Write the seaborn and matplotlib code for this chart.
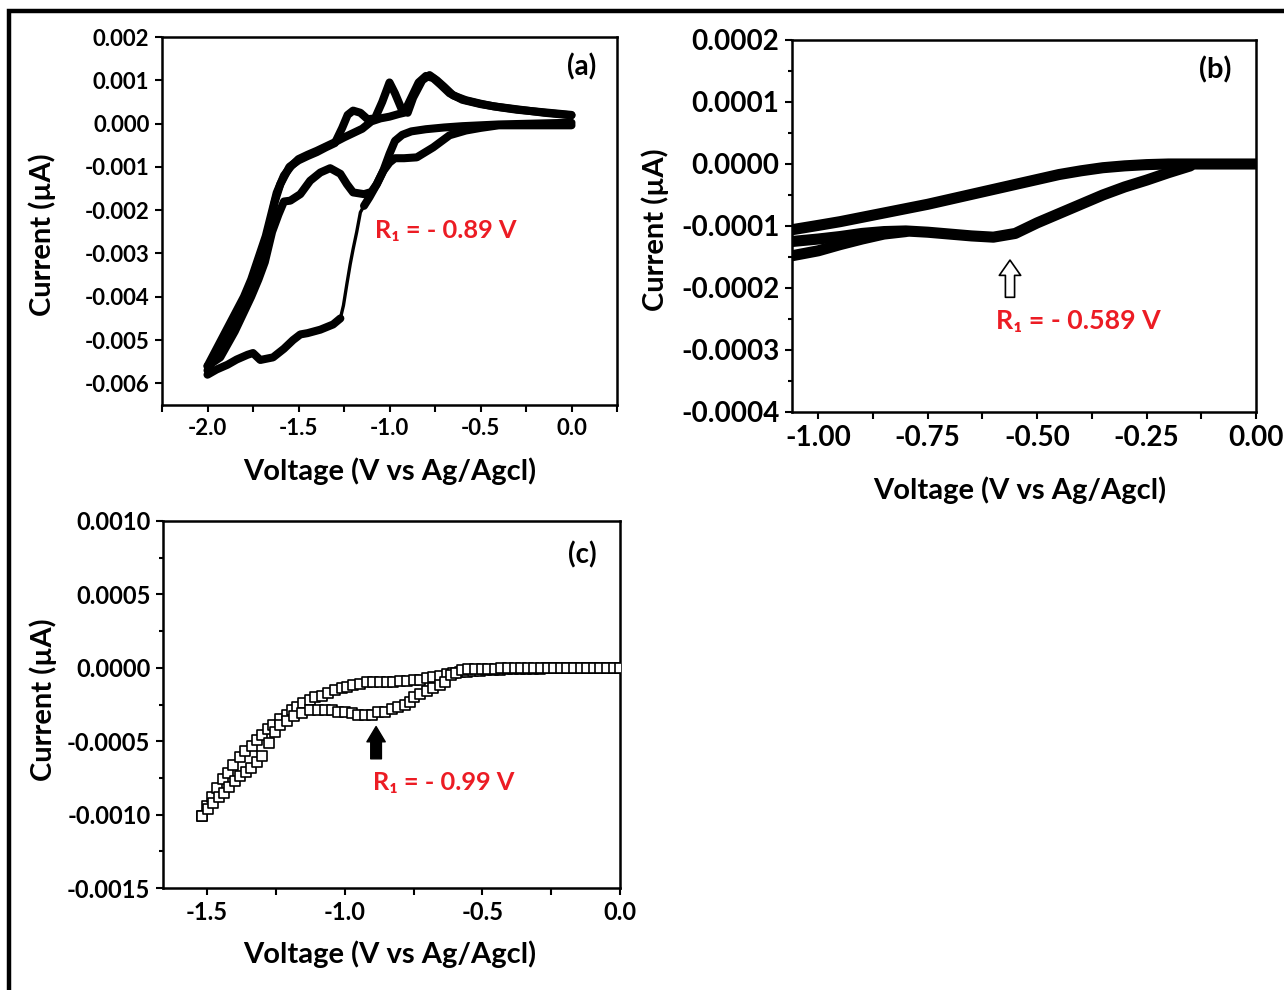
import matplotlib
matplotlib.use("Agg")
import matplotlib.pyplot as plt
import numpy as np
import pandas as pd
import seaborn as sns
from matplotlib.ticker import MultipleLocator, FormatStrFormatter
from matplotlib.patches import Rectangle

# ---------------- data ----------------
# panel (a): cyclic voltammogram branches (V, current)
a_an1_x = [-2.0, -1.95, -1.9, -1.85, -1.8, -1.76, -1.72, -1.69, -1.66, -1.63, -1.6, -1.55, -1.5, -1.45,
           -1.4, -1.35, -1.3, -1.26, -1.23, -1.2, -1.16, -1.12, -1.08, -1.04, -1.0, -0.97, -0.93, -0.9,
           -0.87, -0.82, -0.78, -0.74, -0.7, -0.65, -0.58, -0.5, -0.43, -0.3, -0.15, 0.0]
a_an1_y = [-0.0057, -0.0053, -0.0049, -0.0045, -0.0041, -0.0037, -0.0033, -0.0029, -0.0024, -0.0018,
           -0.0014, -0.0010, -0.00085, -0.00075, -0.00066, -0.00055, -0.00045, -0.0001, 0.0002, 0.0003,
           0.00025, 0.0001, 0.00012, 0.0005, 0.00095, 0.0007, 0.0003, 0.00025, 0.0006, 0.001, 0.00112,
           0.001, 0.00085, 0.00065, 0.00054, 0.00046, 0.0004, 0.00033, 0.00025, 0.00019]

a_an2_x = [-2.0, -1.95, -1.9, -1.85, -1.8, -1.76, -1.72, -1.68, -1.65, -1.62, -1.58, -1.54, -1.5, -1.45,
           -1.4, -1.35, -1.3, -1.25, -1.2, -1.15, -1.1, -1.05, -1.0, -0.95, -0.92, -0.88, -0.84, -0.8,
           -0.76, -0.72, -0.67, -0.6, -0.5, -0.4, -0.3, -0.15, 0.0]
a_an2_y = [-0.0056, -0.0052, -0.0048, -0.0044, -0.0040, -0.0036, -0.0031, -0.0026, -0.0021, -0.0016,
           -0.0012, -0.00098, -0.00082, -0.00072, -0.00063, -0.00053, -0.00043, -0.00032, -0.00022,
           -0.00012, 0.00005, 0.00012, 0.00016, 0.00022, 0.00025, 0.0006, 0.00095, 0.0011, 0.00105,
           0.0009, 0.0007, 0.00055, 0.00045, 0.00038, 0.00032, 0.00026, 0.0002]

a_cat1_x = [0.0, -0.1, -0.2, -0.3, -0.4, -0.5, -0.6, -0.7, -0.8, -0.88, -0.93, -0.97, -1.0, -1.035,
            -1.07, -1.11, -1.14]
a_cat1_y = [0.00002, 0.00001, 0.0, -0.00001, -0.00002, -0.00004, -0.00006, -0.00009, -0.00013, -0.00018,
            -0.00026, -0.0004, -0.0007, -0.0011, -0.0014, -0.0017, -0.0019]

a_fast_x = [-1.14, -1.16, -1.18, -1.2, -1.216, -1.234, -1.253, -1.27]
a_fast_y = [-0.0019, -0.00205, -0.0025, -0.0029, -0.00325, -0.0037, -0.0042, -0.0045]

a_low_x = [-1.27, -1.31, -1.38, -1.45, -1.49, -1.53, -1.58, -1.64, -1.71, -1.75, -1.78, -1.84, -1.89,
           -1.95, -2.0]
a_low_y = [-0.0045, -0.00464, -0.00476, -0.00484, -0.00487, -0.005, -0.0052, -0.0054, -0.00546,
           -0.0053, -0.00534, -0.00545, -0.00557, -0.00568, -0.0058]

a_cat2_x = [0.0, -0.2, -0.4, -0.5, -0.58, -0.67, -0.76, -0.85, -0.92, -0.97, -1.0, -1.035, -1.07, -1.1,
            -1.14, -1.2, -1.234, -1.27, -1.326, -1.38, -1.436, -1.49, -1.545, -1.58, -1.61, -1.645,
            -1.685, -1.72, -1.76, -1.85, -1.93, -2.0]
a_cat2_y = [-0.00004, -0.00004, -0.00004, -0.0001, -0.00016, -0.00027, -0.00055, -0.00078, -0.0008,
            -0.0008, -0.0009, -0.0011, -0.0014, -0.00158, -0.00163, -0.00159, -0.0014, -0.00116,
            -0.00103, -0.00113, -0.00132, -0.00163, -0.00178, -0.0018, -0.0021, -0.0025, -0.0032,
            -0.0036, -0.0040, -0.0048, -0.0054, -0.0056]

# panel (b)
b_up_x = [-1.06, -1.0, -0.95, -0.9, -0.85, -0.8, -0.75, -0.7, -0.65, -0.6, -0.55, -0.5, -0.45, -0.4,
          -0.35, -0.3, -0.25, -0.2, -0.1, 0.0]
b_up_y = [-0.000106, -0.000099, -0.000093, -0.000086, -0.000079, -0.000072, -0.000065, -0.000057,
          -0.000049, -0.000041, -0.000033, -0.000025, -0.000017, -0.000011, -0.000006, -0.000003,
          -0.000001, 0.0, 0.0, 0.0]
b_low_x = [-0.15, -0.2, -0.25, -0.3, -0.35, -0.4, -0.45, -0.5, -0.55, -0.6, -0.65, -0.7, -0.75, -0.8,
           -0.85, -0.9, -0.95, -1.0, -1.06]
b_low_y = [-0.000003, -0.000014, -0.000026, -0.000037, -0.00005, -0.000065, -0.00008, -0.000095,
           -0.000112, -0.000118, -0.000116, -0.000113, -0.00011, -0.000108, -0.000109, -0.000112,
           -0.000117, -0.000121, -0.000125]
b_tail_x = [-1.06, -1.0, -0.95, -0.9, -0.85, -0.8]
b_tail_y = [-0.000148, -0.00014, -0.00013, -0.000121, -0.000113, -0.000109]

# panel (c)
c_up_x = [-1.517, -1.501, -1.483, -1.465, -1.441, -1.423, -1.405, -1.380, -1.362, -1.338, -1.319,
          -1.301, -1.277, -1.259, -1.235, -1.210, -1.192, -1.174, -1.150, -1.126, -1.108, -1.083,
          -1.059, -1.035, -1.011, -0.993, -0.969, -0.944, -0.920, -0.896, -0.872, -0.847, -0.823,
          -0.799, -0.775, -0.750, -0.726, -0.702, -0.678, -0.654, -0.630, -0.606, -0.582, -0.557,
          -0.533, -0.509, -0.485, -0.460, -0.436, -0.412, -0.388, -0.364, -0.340, -0.315, -0.291,
          -0.267, -0.243, -0.218, -0.194, -0.170, -0.146, -0.121, -0.097, -0.073, -0.049, -0.024, 0.0]
c_up_y = [-0.00101, -0.00094, -0.00088, -0.00082, -0.00076, -0.00072, -0.00066, -0.00061, -0.00057,
          -0.00053, -0.00049, -0.00046, -0.00042, -0.00039, -0.00035, -0.00032, -0.00029, -0.00027,
          -0.00024, -0.00022, -0.00020, -0.00019, -0.00017, -0.00015, -0.00014, -0.00013, -0.00012,
          -0.00011, -0.00010, -0.00010, -0.00010, -0.00010, -0.000095, -0.00009, -0.00009, -0.000085,
          -0.00008, -0.000072, -0.000065, -0.000055, -0.000045, -0.000035, -0.00003, -0.000028,
          -0.000025, -0.00002, -0.000018, -0.000015, -0.000012, -0.00001, -0.00001, -0.000008,
          -0.000006, -0.000005, -0.000005, -0.000004, -0.000003, -0.000003, -0.000002, -0.000002,
          -0.000001, -0.000001, 0.0, 0.0, 0.0, 0.0, 0.0]
c_low_x = [-1.517, -1.495, -1.477, -1.458, -1.440, -1.420, -1.400, -1.380, -1.360, -1.340, -1.320,
           -1.300, -1.276, -1.253, -1.235, -1.210, -1.184, -1.156, -1.126, -1.096, -1.072, -1.047,
           -1.023, -0.999, -0.975, -0.951, -0.927, -0.902, -0.878, -0.854, -0.830, -0.806, -0.781,
           -0.763, -0.750, -0.726, -0.702, -0.678, -0.654, -0.636, -0.615, -0.595, -0.575, -0.551,
           -0.527, -0.503, -0.479, -0.455, -0.431, -0.407, -0.383, -0.359, -0.335, -0.311, -0.287,
           -0.263, -0.239, -0.215, -0.191, -0.167, -0.143, -0.119, -0.095, -0.071, -0.047, -0.023, 0.0]
c_low_y = [-0.00101, -0.00096, -0.00092, -0.00088, -0.00085, -0.00081, -0.00077, -0.00074, -0.00071,
           -0.00068, -0.00064, -0.00060, -0.00051, -0.00044, -0.00039, -0.00036, -0.00033, -0.00031,
           -0.00029, -0.00029, -0.00029, -0.00029, -0.00030, -0.00030, -0.00031, -0.00032, -0.00032,
           -0.00032, -0.00030, -0.00030, -0.00028, -0.00027, -0.00025, -0.00023, -0.00020, -0.00018,
           -0.00016, -0.00014, -0.00012, -0.00010, -0.00005, -0.000035, -0.000015, -0.00001,
           -0.000008, -0.000007, -0.000006, -0.000005, -0.000004, -0.000004, -0.000003, -0.000003,
           -0.000002, -0.000002, -0.000001, -0.000001, 0.0, 0.0, 0.0, 0.0, 0.0, 0.0, 0.0, 0.0, 0.0,
           0.0, 0.0]

x_label = "Voltage (V vs Ag/Agcl)"
y_label = "Current (\u00b5A)"
ann_a = "R\u2081 = - 0.89 V"
ann_b = "R\u2081 = - 0.589 V"
ann_c = "R\u2081 = - 0.99 V"

# ---------------- style ----------------
sns.set_theme(style="white")
plt.rcParams["font.family"] = ["Lato", "DejaVu Sans"]
plt.rcParams["font.weight"] = "bold"
plt.rcParams["axes.labelweight"] = "bold"
plt.rcParams["axes.unicode_minus"] = False

RED = "#ec1c24"

fig = plt.figure(figsize=(12.84, 9.9), dpi=100)
fig.patch.set_facecolor("white")

W, H = 1284.0, 990.0


def add_ax(l, r, t, b):
    return fig.add_axes([l / W, 1 - b / H, (r - l) / W, (b - t) / H])


axA = add_ax(162, 617, 37, 405)
axB = add_ax(792, 1256, 40, 412)
axC = add_ax(163, 620, 521, 888)


def style_ax(ax, fs):
    for s in ax.spines.values():
        s.set_color("black")
        s.set_linewidth(1.8)
        s.set_visible(True)
    ax.tick_params(axis="both", which="both", direction="out", color="black", width=1.5,
                   labelsize=fs, labelcolor="black", bottom=True, left=True, top=False, right=False)
    ax.tick_params(which="major", length=5, pad=4)
    ax.tick_params(which="minor", length=5)
    for lab in ax.get_xticklabels() + ax.get_yticklabels():
        lab.set_fontweight("bold")
    ax.set_facecolor("white")
    ax.grid(False)


def line(ax, x, y, lw):
    df = pd.DataFrame({"V": x, "I": y})
    sns.lineplot(data=df, x="V", y="I", sort=False, estimator=None, color="black",
                 linewidth=lw, ax=ax, solid_capstyle="round", solid_joinstyle="round")


LAB = 21

# ---- panel (a)
for xs, ys in [(a_an1_x, a_an1_y), (a_an2_x, a_an2_y), (a_cat1_x, a_cat1_y),
               (a_low_x, a_low_y), (a_cat2_x, a_cat2_y)]:
    line(axA, xs, ys, 5.8)
line(axA, a_fast_x, a_fast_y, 2.4)
axA.set_xlim(-2.25, 0.25)
axA.set_ylim(-0.0065, 0.002)
axA.xaxis.set_major_locator(MultipleLocator(0.5))
axA.xaxis.set_minor_locator(MultipleLocator(0.25))
axA.xaxis.set_major_formatter(FormatStrFormatter("%.1f"))
axA.yaxis.set_major_locator(MultipleLocator(0.001))
axA.yaxis.set_major_formatter(FormatStrFormatter("%.3f"))
style_ax(axA, 16)
axA.set_xlabel(x_label, fontsize=LAB, fontweight="bold", color="black")
axA.set_ylabel(y_label, fontsize=LAB, fontweight="bold", color="black")
axA.xaxis.set_label_coords(0.5, -0.142)
axA.yaxis.set_label_coords(-0.232, 0.462)
axA.text(0.923, 0.918, "(a)", transform=axA.transAxes, ha="center", va="center",
         fontsize=20, fontweight="bold", color="black")
axA.text(-0.69, -0.00248, ann_a, ha="center", va="center", fontsize=18.3,
         fontweight="bold", color=RED)

# ---- panel (b)
line(axB, b_up_x, b_up_y, 8)
line(axB, b_low_x, b_low_y, 8)
line(axB, b_tail_x, b_tail_y, 8)
axB.set_xlim(-1.06, 0.0)
axB.set_ylim(-0.0004, 0.0002)
axB.xaxis.set_major_locator(MultipleLocator(0.25))
axB.xaxis.set_minor_locator(MultipleLocator(0.125))
axB.xaxis.set_major_formatter(FormatStrFormatter("%.2f"))
axB.yaxis.set_major_locator(MultipleLocator(0.0001))
axB.yaxis.set_minor_locator(MultipleLocator(0.00005))
axB.yaxis.set_major_formatter(FormatStrFormatter("%.4f"))
style_ax(axB, 20)
axB.tick_params(which="minor", axis="y", length=3)
axB.set_xlabel(x_label, fontsize=LAB, fontweight="bold", color="black")
axB.set_ylabel(y_label, fontsize=LAB, fontweight="bold", color="black")
axB.xaxis.set_label_coords(0.49, -0.172)
axB.yaxis.set_label_coords(-0.266, 0.489)
axB.text(0.912, 0.919, "(b)", transform=axB.transAxes, ha="center", va="center",
         fontsize=21, fontweight="bold", color="black")
axB.text(-0.405, -0.000253, ann_b, ha="center", va="center", fontsize=19.3,
         fontweight="bold", color=RED)
axB.annotate("", xy=(-0.562, -0.000155), xytext=(-0.562, -0.000215),
             arrowprops=dict(arrowstyle="simple,head_length=0.5,head_width=0.7,tail_width=0.3",
                             fc="white", ec="black", lw=1.2, mutation_scale=22,
                             shrinkA=0, shrinkB=0))

# ---- panel (c)
for xs, ys in [(c_up_x, c_up_y), (c_low_x, c_low_y)]:
    df = pd.DataFrame({"V": xs, "I": ys})
    sns.scatterplot(data=df, x="V", y="I", marker="s", s=48, facecolor="white",
                    edgecolor="black", linewidth=1.2, ax=axC, zorder=3)
axC.set_xlim(-1.66, 0.0)
axC.set_ylim(-0.0015, 0.0010)
axC.xaxis.set_major_locator(MultipleLocator(0.5))
axC.xaxis.set_minor_locator(MultipleLocator(0.25))
axC.xaxis.set_major_formatter(FormatStrFormatter("%.1f"))
axC.yaxis.set_major_locator(MultipleLocator(0.0005))
axC.yaxis.set_minor_locator(MultipleLocator(0.00025))
axC.yaxis.set_major_formatter(FormatStrFormatter("%.4f"))
style_ax(axC, 17)
axC.tick_params(which="minor", axis="y", length=3)
axC.set_xlabel(x_label, fontsize=LAB, fontweight="bold", color="black")
axC.set_ylabel(y_label, fontsize=LAB, fontweight="bold", color="black")
axC.xaxis.set_label_coords(0.496, -0.142)
axC.yaxis.set_label_coords(-0.232, 0.512)
axC.text(0.917, 0.907, "(c)", transform=axC.transAxes, ha="center", va="center",
         fontsize=20, fontweight="bold", color="black")
axC.text(-0.64, -0.000778, ann_c, ha="center", va="center", fontsize=18.3,
         fontweight="bold", color=RED)
axC.annotate("", xy=(-0.886, -0.00040), xytext=(-0.886, -0.00062),
             arrowprops=dict(arrowstyle="simple,head_length=0.5,head_width=0.6,tail_width=0.35",
                             fc="black", ec="black", lw=1.0, mutation_scale=22,
                             shrinkA=0, shrinkB=0))

# outer frame (top and left edges visible)
fig.add_artist(Rectangle((9 / W, -0.2), 1.3, 1.2 - 11 / H, transform=fig.transFigure,
                         fill=False, ec="black", lw=3.2))

fig.savefig("out.png", dpi=100, facecolor="white")
